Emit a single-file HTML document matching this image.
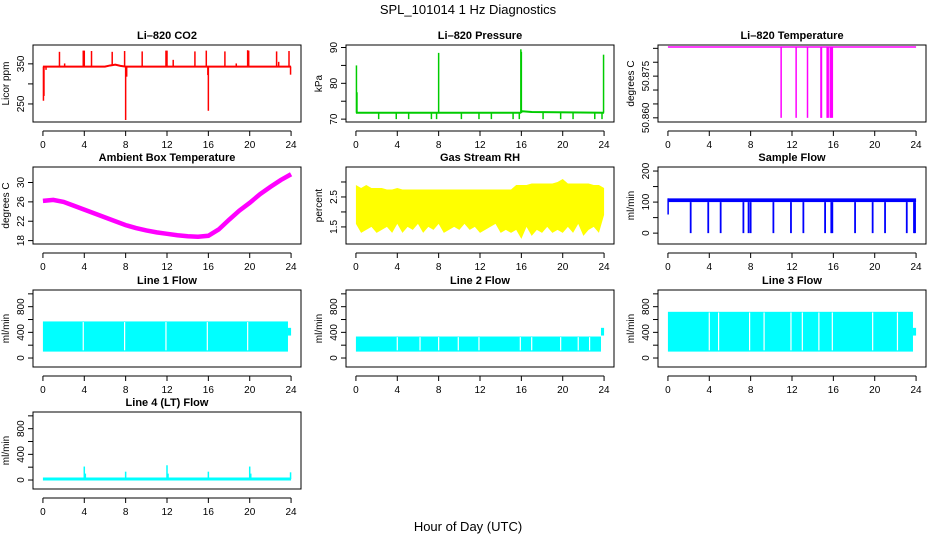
<!DOCTYPE html>
<html><head><meta charset="utf-8"><style>
html,body{margin:0;padding:0;background:#fff;}
svg{display:block;font-family:"Liberation Sans",Arial,sans-serif;}
</style></head><body>
<svg id="c" width="936" height="540" viewBox="0 0 936 540">
<text x="468" y="14" text-anchor="middle" font-size="13">SPL_101014  1 Hz Diagnostics</text>
<text x="468" y="531" text-anchor="middle" font-size="13">Hour of Day (UTC)</text>
</svg>
<script>
// ---- data ----
const xTicks=[0,4,8,12,16,20,24];
// CO2
const co2Base=[[0,343],[6,343],[6.5,346],[7,348],[7.5,345],[8,343],[24,343]];
const co2Spikes=[[0.05,258],[0.1,270],[0.3,335],[1.6,380],[2.1,351],[3.9,383],[4.0,383],[4.7,382],[6.7,380],[7.9,382],[8.0,210],[8.1,318],[9.6,381],[11.9,383],[12.0,383],[12.6,360],[14.7,381],[15.8,383],[15.95,322],[16.0,233],[17.6,381],[18.7,351],[19.8,384],[19.9,383],[22.6,381],[22.8,355],[23.8,382],[23.95,323]];
// Pressure
const presBase=[[0,71.8],[15.9,71.8],[16.1,72.2],[17,72.0],[24,71.8]];
const presSpikes=[[0.05,85],[0.1,77.5],[8.0,88.5],[15.95,89.5],[16.0,88.8],[23.95,88]];
const presDips=[2.2,3.9,5.1,7.3,7.8,10.2,11.9,13.1,15.2,15.8,18.1,19.8,21.0,23.1,23.8];
// Li-820 temperature
const tempBase=50.8855;
const tempDrops=[10.95,12.4,13.5,14.8,14.85,15.4,15.5,15.7,15.8,15.9];
// Ambient box temperature (hourly)
const ambHours=[0,1,2,3,4,5,6,7,8,9,10,11,12,13,14,15,16,17,18,19,20,21,22,23,24];
const ambVals=[26.2,26.4,26.0,25.2,24.4,23.6,22.8,22.0,21.2,20.6,20.1,19.7,19.4,19.1,18.9,18.8,19.0,20.3,22.3,24.2,25.8,27.6,29.1,30.5,31.7];
// Gas stream RH (half-hourly envelope)
const rhHi=[2.9,2.8,2.9,2.8,2.8,2.8,2.75,2.75,2.8,2.75,2.75,2.75,2.75,2.75,2.75,2.75,2.75,2.75,2.75,2.75,2.75,2.75,2.75,2.75,2.75,2.75,2.75,2.75,2.75,2.75,2.75,2.9,2.9,2.9,2.95,2.95,2.95,2.95,2.95,3.0,3.1,2.95,2.95,2.95,2.95,2.95,2.9,2.9,2.8];
const rhLo=[1.6,1.3,1.4,1.5,1.3,1.4,1.5,1.3,1.6,1.3,1.5,1.4,1.6,1.3,1.5,1.4,1.6,1.3,1.4,1.5,1.4,1.6,1.4,1.5,1.3,1.4,1.5,1.6,1.3,1.4,1.3,1.4,1.1,1.5,1.2,1.4,1.3,1.5,1.3,1.4,1.3,1.5,1.3,1.6,1.2,1.4,1.5,1.3,1.9];
// Sample flow
const sfHi=112, sfLo=100;
const sfDrops=[2.2,3.9,5.1,7.3,7.8,8.0,10.2,11.9,13.1,15.2,15.8,15.9,18.1,19.8,21.0,23.1,23.8,23.9];
// Line flows
const l1Hi=570, l1Lo=100, l1Gaps=[3.9,7.9,11.9,15.9,19.8];
const l2Hi=335, l2Lo=100, l2Gaps=[4.0,6.2,8.0,9.9,11.9,15.9,17.0,19.8,21.5,22.6];
const l3Hi=720, l3Lo=100, l3Gaps=[4.0,4.9,7.9,9.3,11.9,13.0,14.6,15.9,19.8,22.2];
const l4Spikes=[[4.0,210],[4.1,100],[8.0,130],[12.0,230],[12.1,100],[16.0,130],[20.0,210],[20.1,100],[23.95,120]];
const l4Base=15;

// ---- layout ----
const svg=document.getElementById('c');
const NS='http://www.w3.org/2000/svg';
const L=[33,346,658], T=[45,167,290,412], W=268, H=77;
function mk(tag,attrs,parent){const e=document.createElementNS(NS,tag);for(const k in attrs)e.setAttribute(k,attrs[k]);(parent||svg).appendChild(e);return e;}

function panel(col,row,title,ylab,ymin,ymax,yticks,ylabels,name){
  const x0=L[col], y0=T[row];
  const g=mk('g',{});
  
  
  const sx=v=>x0+(v+0.96)/25.92*W;
  const sy=v=>y0+H-(v-ymin)/(ymax-ymin)*H;
  const t=mk('text',{x:x0+W/2,y:y0-6,'text-anchor':'middle','font-size':'11','font-weight':'bold'},g);
  t.textContent=title;
  
  
  const pg=mk('g',{},g);
  
  
  // x axis
  const xa=mk('g',{},g);
  
  
  const ya0=y0+H+9;
  mk('line',{x1:sx(0),x2:sx(24),y1:ya0,y2:ya0,stroke:'#000'},xa);
  xTicks.forEach(v=>{mk('line',{x1:sx(v),x2:sx(v),y1:ya0,y2:ya0+5,stroke:'#000'},xa);
    const tt=mk('text',{x:sx(v),y:ya0+17,'text-anchor':'middle','font-size':'10'},xa);tt.textContent=v;});
  // y axis
  const ya=mk('g',{},g);
  
  
  yticks.forEach(v=>{mk('line',{x1:x0-5,x2:x0,y1:sy(v),y2:sy(v),stroke:'#000'},ya);});
  ylabels.forEach(v=>{const tt=mk('text',{x:x0-9,y:sy(v),'text-anchor':'middle','font-size':'10',transform:`rotate(-90 ${x0-9} ${sy(v)})`},ya);tt.textContent=v;});
  const yl=mk('text',{x:x0-24,y:y0+H/2,'text-anchor':'middle','font-size':'10',transform:`rotate(-90 ${x0-24} ${y0+H/2})`},ya);
  yl.textContent=ylab;
  
  
  mk('rect',{x:x0,y:y0,width:W,height:H,fill:'none',stroke:'#000'},g);
  const clip=mk('clipPath',{id:'cl'+name},g);
  mk('rect',{x:x0,y:y0,width:W,height:H},clip);
  pg.setAttribute('clip-path','url(#cl'+name+')');
  return {sx,sy,g:pg};
}
function pl(p,pts,color,w){return mk('polyline',{points:pts.map(d=>p.sx(d[0])+','+p.sy(d[1])).join(' '),fill:'none',stroke:color,'stroke-width':w||1.5},p.g);}
function vl(p,x,a,b,color,w){return mk('line',{x1:p.sx(x),x2:p.sx(x),y1:p.sy(a),y2:p.sy(b),stroke:color,'stroke-width':w||1.5},p.g);}
function interpBase(base,x){for(let i=1;i<base.length;i++){if(x<=base[i][0]){const a=base[i-1],b=base[i];return a[1]+(b[1]-a[1])*(x-a[0])/(b[0]-a[0]);}}return base[base.length-1][1];}
function band(p,x1,x2,lo,hi,color){const a=Math.min(p.sx(x1),p.sx(x2));return mk('rect',{x:a,y:p.sy(hi),width:Math.abs(p.sx(x2)-p.sx(x1)),height:p.sy(lo)-p.sy(hi),fill:color},p.g);}

// CO2
let p=panel(0,0,'Li\u2013820 CO2','Licor ppm',205,397,[250,300,350],[250,350],'co2');
pl(p,co2Base,'#ff0000',2);
co2Spikes.forEach(d=>vl(p,d[0],interpBase(co2Base,d[0]),d[1],'#ff0000',1.5));
// Pressure
p=panel(1,0,'Li\u2013820 Pressure','kPa',69.2,90.7,[70,75,80,85,90],[70,80,90],'pressure');
pl(p,presBase,'#00cc00',2);
presSpikes.forEach(d=>vl(p,d[0],interpBase(presBase,d[0]),d[1],'#00cc00',1.5));
presDips.forEach(x=>vl(p,x,interpBase(presBase,x),70,'#00cc00',1.5));
// Temperature
p=panel(2,0,'Li\u2013820 Temperature','degrees C',50.8585,50.8862,[50.860,50.865,50.870,50.875,50.880,50.885],['50.860','50.875'],'li820-temp');
pl(p,[[0,tempBase],[24,tempBase]],'#ff00ff',1.5);
tempDrops.forEach(x=>vl(p,x,tempBase,50.860,'#ff00ff',1.5));
// Ambient
p=panel(0,1,'Ambient Box Temperature','degrees C',17.3,33.2,[18,22,26,30],[18,22,26,30],'ambient-temp');
pl(p,ambHours.map((h,i)=>[h,ambVals[i]]),'#ff00ff',4.5);
// RH
p=panel(1,1,'Gas Stream RH','percent',0.93,3.5,[1.5,2.0,2.5,3.0],[1.5,2.5],'gas-rh');
{const n=rhHi.length;const pts=[];for(let i=0;i<n;i++)pts.push(p.sx(i*0.5)+','+p.sy(rhHi[i]));for(let i=n-1;i>=0;i--)pts.push(p.sx(i*0.5)+','+p.sy(rhLo[i]));
 mk('polygon',{points:pts.join(' '),fill:'#ffff00'},p.g);}
// Sample flow
p=panel(2,1,'Sample Flow','ml/min',-35,213,[0,50,100,150,200],[0,100,200],'sample-flow');
band(p,0,24,sfLo,sfHi,'#0000ff');
vl(p,0.02,60,sfHi,'#0000ff',1.5);
sfDrops.forEach(x=>vl(p,x,sfLo,0,'#0000ff',1.8));
// Line flows
function flow(col,row,title,name,hi,lo,gaps){
  const q=panel(col,row,title,'ml/min',-140,1060,[0,200,400,600,800,1000],[0,400,800],name);
  band(q,0,23.7,lo,hi,'#00ffff');
  band(q,23.7,24,350,470,'#00ffff');
  gaps.forEach(x=>vl(q,x,lo+20,hi-10,'#ffffff',1.2));
  return q;
}
flow(0,2,'Line 1 Flow','line1-flow',l1Hi,l1Lo,l1Gaps);
flow(1,2,'Line 2 Flow','line2-flow',l2Hi,l2Lo,l2Gaps);
flow(2,2,'Line 3 Flow','line3-flow',l3Hi,l3Lo,l3Gaps);
p=panel(0,3,'Line 4 (LT) Flow','ml/min',-140,1060,[0,200,400,600,800,1000],[0,400,800],'line4-flow');
pl(p,[[0,l4Base],[24,l4Base]],'#00ffff',3);
l4Spikes.forEach(d=>vl(p,d[0],l4Base,d[1],'#00ffff',1.5));
</script>
</body></html>
